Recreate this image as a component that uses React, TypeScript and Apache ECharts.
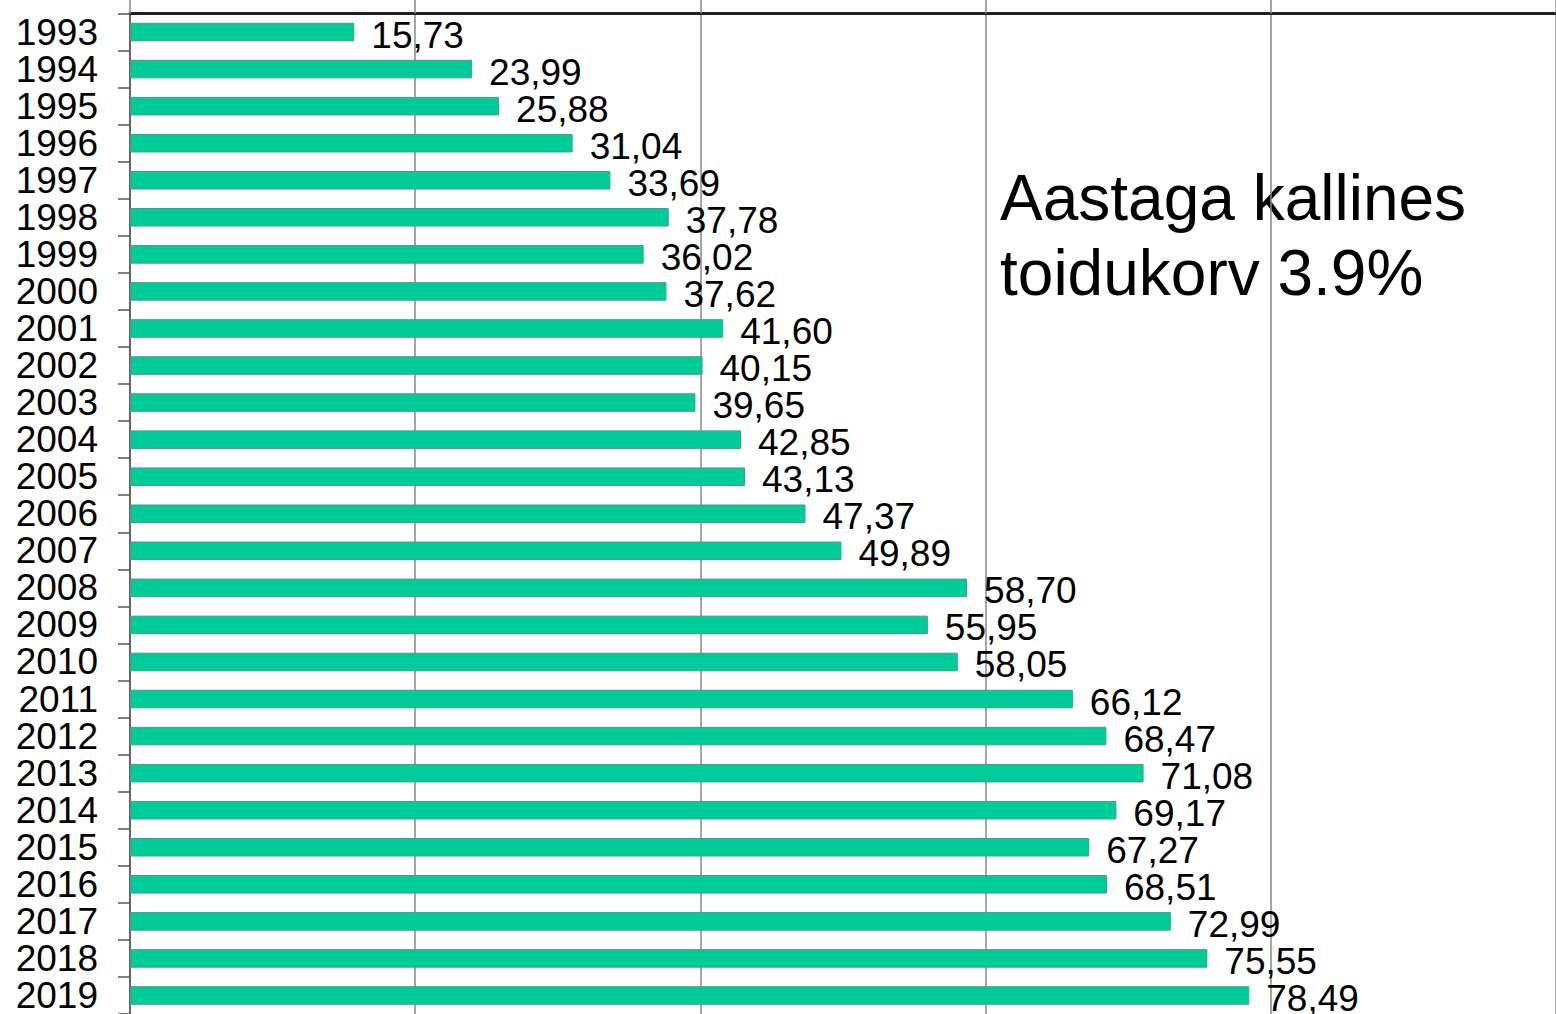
import React, { useEffect, useRef } from "react";
import * as echarts from "echarts";

const years = [
  "1993", "1994", "1995", "1996", "1997", "1998", "1999", "2000", "2001",
  "2002", "2003", "2004", "2005", "2006", "2007", "2008", "2009", "2010",
  "2011", "2012", "2013", "2014", "2015", "2016", "2017", "2018", "2019",
];
const values = [
  15.73, 23.99, 25.88, 31.04, 33.69, 37.78, 36.02, 37.62, 41.6,
  40.15, 39.65, 42.85, 43.13, 47.37, 49.89, 58.7, 55.95, 58.05,
  66.12, 68.47, 71.08, 69.17, 67.27, 68.51, 72.99, 75.55, 78.49,
];
const noteLines = ["Aastaga kallines", "toidukorv 3.9%"];

const FONT = '"Liberation Sans", Arial, sans-serif';

export default function App() {
  const ref = useRef<HTMLDivElement>(null);
  useEffect(() => {
    if (!ref.current) return;
    const chart = echarts.init(ref.current, null, { renderer: "svg" });
    chart.setOption({
      animation: false,
      backgroundColor: "#ffffff",
      grid: { left: 130, right: -4, top: 13.5, bottom: -1.2, containLabel: false },
      xAxis: {
        type: "value",
        position: "top",
        min: 0,
        max: 100,
        interval: 20,
        axisLabel: { show: false },
        axisLine: { show: true, lineStyle: { color: "#222", width: 3 } },
        axisTick: { show: true, length: 14, lineStyle: { color: "#888", width: 1.5 } },
        splitLine: { show: true, lineStyle: { color: "#888", width: 1.5 } },
      },
      yAxis: {
        type: "category",
        inverse: true,
        data: years,
        axisLine: { show: true, lineStyle: { color: "#666", width: 2 } },
        axisTick: { show: true, interval: 0, length: 12, lineStyle: { color: "#555", width: 1.5 } },
        axisLabel: { interval: 0, color: "#000", fontSize: 37, fontFamily: FONT, margin: 32 },
      },
      series: [
        {
          type: "bar",
          data: values,
          barWidth: "50%",
          itemStyle: { color: "#00cc99", borderColor: "#4c9a80", borderWidth: 1 },
          label: {
            show: true,
            position: "right",
            distance: 5,
            offset: [12, 3],
            color: "#000",
            fontSize: 37,
            fontFamily: FONT,
            formatter: (p: any) => Number(p.value).toFixed(2).replace(".", ","),
          },
        },
      ],
      graphic: [
        {
          type: "text",
          left: 1000,
          top: 160,
          style: {
            text: noteLines.join("\n"),
            fontSize: 64,
            lineHeight: 75,
            fontFamily: FONT,
            fill: "#000",
          },
        },
      ],
    });
    return () => chart.dispose();
  }, []);
  return (
    <div
      ref={ref}
      style={{ position: "fixed", left: 0, top: 0, width: 1556, height: 1014, background: "#fff" }}
    />
  );
}
